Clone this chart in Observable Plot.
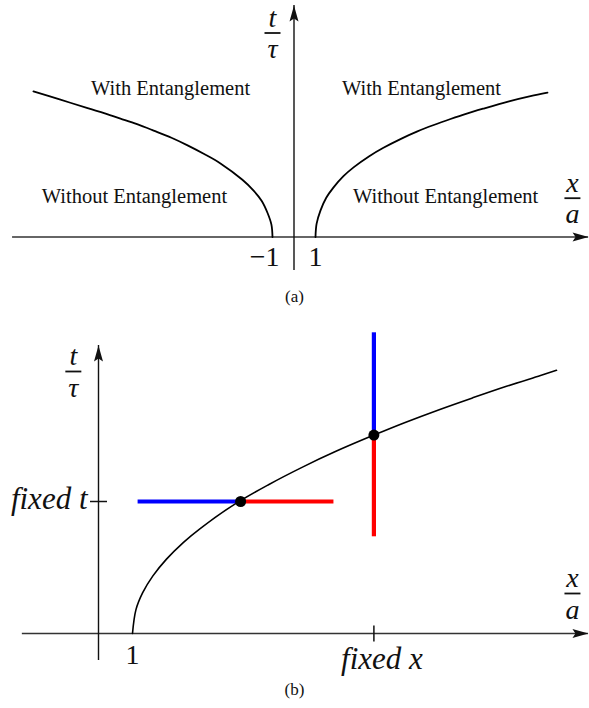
<!DOCTYPE html>
<html>
<head>
<meta charset="utf-8">
<script src="https://cdn.jsdelivr.net/npm/d3@7"></script>
<script src="https://cdn.jsdelivr.net/npm/@observablehq/plot@0.6"></script>
<style>
  body { margin: 0; background: #fff; }
  #fig { width: 589px; font-family: "Liberation Serif", "Times New Roman", serif; }
  #fig svg { display: block; }
  .cap { width: 589px; text-align: center; font-size: 17px; color: #111; }
  #capA { height: 22px; line-height: 22px; }
  #capB { height: 24px; line-height: 24px; }
</style>
</head>
<body>
<div id="fig">
  <div id="panelA"></div>
  <div class="cap" id="capA">(a)</div>
  <div id="panelB"></div>
  <div class="cap" id="capB">(b)</div>
</div>
<script>
// ---------- Panel (a): entanglement boundary t/τ versus x/a ----------
const branchRightX = [1, 1.05, 1.23, 1.5, 1.84, 2.3, 2.77, 3.5, 4.16, 5, 5.74, 6.5, 7.28, 8, 8.81, 10, 11, 11.79];
const branchRightT = [0, 0.33, 0.66, 0.98, 1.24, 1.52, 1.74, 2.02, 2.23, 2.46, 2.64, 2.8, 2.95, 3.08, 3.21, 3.39, 3.52, 3.61];
const branchLeftX  = [-1, -1.05, -1.23, -1.5, -1.88, -2.4, -3.42, -4.2, -4.95, -5.7, -6.53, -7.3, -8.07, -8.8, -9.6, -10.9, -12.12];
const branchLeftT  = [0, 0.31, 0.6, 0.9, 1.16, 1.43, 1.84, 2.08, 2.29, 2.48, 2.66, 2.82, 2.96, 3.09, 3.22, 3.44, 3.64];
const ticksA = [-1, 1];
const tickLabelsA = ["\u22121", "1"];
const regionNames = ["With Entanglement", "With Entanglement", "Without Entanglement", "Without Entanglement"];
const regionX = [-5.74, 5.93, -7.42, 7.05];
const regionT = [3.54, 3.54, 0.86, 0.86];
const axisAX = [-13.09, 13.70];   // horizontal axis extent (arrow at the right end)
const axisAT = [-0.84, 5.79];     // vertical axis extent (arrow at the top)
const fracAX = [-1.0, 12.95];     // fraction labels t/τ and x/a
const fracAT = [5.10, 0.97];
const fracNum = ["t", "x"];
const fracDen = ["\u03c4", "a"];

// ---------- Panel (b): fixed t and fixed x cuts through the boundary ----------
const curveX = [1, 1.1, 1.3, 1.6, 2, 2.5, 3, 4, 5, 6, 7, 8.1, 9, 10, 11, 12, 13, 13.47];
const curveT = [0, 0.59, 1.02, 1.44, 1.86, 2.28, 2.63, 3.23, 3.72, 4.16, 4.56, 4.96, 5.27, 5.59, 5.89, 6.18, 6.45, 6.58];
const fixedT = 3.3;
const fixedX = 8.1;
const crossAtFixedT = 4.18;            // x where the boundary reaches fixed t
const crossAtFixedX = 4.96;            // t where the boundary reaches fixed x
const hSegX = [1.15, 6.91];            // ends of the horizontal cut
const vSegT = [7.53, 2.43];            // ends of the vertical cut
const ticksB = [1];
const tickLabelsB = ["1"];
const axisBX = [-2.24, 14.41];
const axisBT = [-0.675, 7.2];
const fracBX = [-0.74, 13.94];
const fracBT = [6.55, 1.0];

const BLUE = "#4400e4";
const RED = "#e00000";
const SERIF = "'Liberation Serif', 'Times New Roman', serif";

// Custom symbols: a slim filled arrowhead (tip at origin, pointing up) and a short line
const arrowHead = {
  draw(ctx) {
    ctx.moveTo(0, 0);
    ctx.lineTo(4.5, 16);
    ctx.lineTo(0, 13);
    ctx.lineTo(-4.5, 16);
    ctx.closePath();
  }
};
const hLine = (len) => ({
  draw(ctx) {
    ctx.moveTo(-len / 2, 0);
    ctx.lineTo(len / 2, 0);
  }
});

const zip = (xs, ts) => xs.map((x, i) => ({x, t: ts[i]}));

// Stacked fraction: numerator above and denominator below a short bar
function fractionMarks(xs, ts, nums, dens) {
  const rows = xs.map((x, i) => ({x, t: ts[i], num: nums[i], den: dens[i]}));
  const common = {x: "x", y: "t", fontFamily: SERIF, fontStyle: "italic", fontSize: 28, fill: "#111", lineAnchor: "bottom"};
  return [
    Plot.text(rows, {...common, text: "num", dy: -6.5}),
    Plot.text(rows, {...common, text: "den", dy: 25}),
    Plot.dot(rows, {x: "x", y: "t", symbol: hLine(16), stroke: "#111", strokeWidth: 1.8, fill: "none"})
  ];
}

// Panel (a)
const panelA = Plot.plot({
  width: 589,
  height: 286,
  margin: 0,
  style: {background: "#fff", fontFamily: SERIF},
  x: {domain: [-293.5 / 21.5, 295.5 / 21.5], axis: null},
  y: {domain: [-49.5 / 40, 236.5 / 40], axis: null},
  marks: [
    Plot.ruleY([0], {x1: axisAX[0], x2: axisAX[1], stroke: "#333", strokeWidth: 1.5}),
    Plot.ruleX([0], {y1: axisAT[0], y2: axisAT[1], stroke: "#111", strokeWidth: 1.4}),
    Plot.dot([{x: axisAX[1], t: 0}], {x: "x", y: "t", symbol: arrowHead, rotate: 90, fill: "#111", stroke: "none"}),
    Plot.dot([{x: 0, t: axisAT[1]}], {x: "x", y: "t", symbol: arrowHead, fill: "#111", stroke: "none"}),
    Plot.line(zip(branchRightX, branchRightT), {x: "x", y: "t", curve: "catmull-rom", stroke: "#000", strokeWidth: 1.8}),
    Plot.line(zip(branchLeftX, branchLeftT), {x: "x", y: "t", curve: "catmull-rom", stroke: "#000", strokeWidth: 1.8}),
    Plot.text(ticksA, {x: (d) => d, y: 0, text: (d, i) => tickLabelsA[i], textAnchor: "end", dx: 7, dy: 29,
      lineAnchor: "bottom", fontSize: 28, fontFamily: SERIF, fill: "#111"}),
    Plot.text(regionNames, {x: (d, i) => regionX[i], y: (d, i) => regionT[i], text: (d) => d,
      lineAnchor: "bottom", fontSize: 20.5, fontFamily: SERIF, fill: "#111"}),
    ...fractionMarks(fracAX, fracAT, fracNum, fracDen)
  ]
});
document.getElementById("panelA").append(panelA);

// Panel (b)
const cuts = [
  {x1: hSegX[0], x2: crossAtFixedT, y1: fixedT, y2: fixedT, c: "blue"},
  {x1: crossAtFixedT, x2: hSegX[1], y1: fixedT, y2: fixedT, c: "red"},
  {x1: fixedX, x2: fixedX, y1: vSegT[0], y2: crossAtFixedX, c: "blue"},
  {x1: fixedX, x2: fixedX, y1: crossAtFixedX, y2: vSegT[1], c: "red"}
];

const panelB = Plot.plot({
  width: 589,
  height: 370,
  margin: 0,
  style: {background: "#fff", fontFamily: SERIF},
  x: {domain: [-98 / 34, 491 / 34], axis: null},
  y: {domain: [-45 / 40, 325 / 40], axis: null},
  color: {domain: ["blue", "red"], range: [BLUE, RED]},
  marks: [
    Plot.ruleY([0], {x1: axisBX[0], x2: axisBX[1], stroke: "#333", strokeWidth: 1.5}),
    Plot.ruleX([0], {y1: axisBT[0], y2: axisBT[1], stroke: "#111", strokeWidth: 1.4}),
    Plot.dot([{x: axisBX[1], t: 0}], {x: "x", y: "t", symbol: arrowHead, rotate: 90, fill: "#111", stroke: "none"}),
    Plot.dot([{x: 0, t: axisBT[1]}], {x: "x", y: "t", symbol: arrowHead, fill: "#111", stroke: "none"}),
    // tick marks at fixed t and fixed x
    Plot.dot([{x: 0, t: fixedT}], {x: "x", y: "t", symbol: hLine(17), stroke: "#111", strokeWidth: 1.5, fill: "none"}),
    Plot.dot([{x: fixedX, t: 0}], {x: "x", y: "t", symbol: hLine(16), rotate: 90, stroke: "#111", strokeWidth: 1.5, fill: "none"}),
    Plot.link(cuts, {x1: "x1", x2: "x2", y1: "y1", y2: "y2", stroke: "c", strokeWidth: 4.2, strokeLinecap: "butt"}),
    Plot.line(zip(curveX, curveT), {x: "x", y: "t", curve: "catmull-rom", stroke: "#000", strokeWidth: 1.6}),
    Plot.dot([{x: crossAtFixedT, t: fixedT}, {x: fixedX, t: crossAtFixedX}], {x: "x", y: "t", r: 5.5, fill: "#000", stroke: "none"}),
    Plot.text(ticksB, {x: (d) => d, y: 0, text: (d, i) => tickLabelsB[i], textAnchor: "end", dx: 7, dy: 30,
      lineAnchor: "bottom", fontSize: 28, fontFamily: SERIF, fill: "#111"}),
    Plot.text(["fixed t"], {x: 0, y: fixedT, text: (d) => d, textAnchor: "end", dx: -11, dy: 7,
      lineAnchor: "bottom", fontSize: 31, fontStyle: "italic", fontFamily: SERIF, fill: "#111"}),
    Plot.text(["fixed x"], {x: fixedX, y: 0, text: (d) => d, dx: 8, dy: 35,
      lineAnchor: "bottom", fontSize: 31, fontStyle: "italic", fontFamily: SERIF, fill: "#111"}),
    ...fractionMarks(fracBX, fracBT, fracNum, fracDen)
  ]
});
document.getElementById("panelB").append(panelB);
</script>
</body>
</html>
